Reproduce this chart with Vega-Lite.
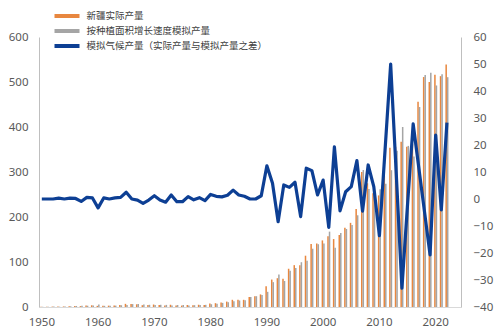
{
  "$schema": "https://vega.github.io/schema/vega-lite/v6.json",
  "width": 422,
  "height": 270,
  "autosize": "none",
  "padding": {"left": 39, "top": 37, "right": 39, "bottom": 26},
  "background": "white",
  "config": {
    "view": {"stroke": null},
    "font": "Noto Sans",
    "axis": {"labelColor": "#595959", "labelFontSize": 11.5, "domainColor": "#BFBFBF", "ticks": false, "grid": false, "title": null}
  },
  "data": {"values": [
    {"year":1950,"a":0.5,"s":0.5,"c":0},
    {"year":1951,"a":0.6,"s":0.6,"c":0},
    {"year":1952,"a":0.9,"s":0.9,"c":0},
    {"year":1953,"a":1.0,"s":0.7,"c":0.3},
    {"year":1954,"a":1.2,"s":1.2,"c":0},
    {"year":1955,"a":1.8,"s":1.5,"c":0.3},
    {"year":1956,"a":2.5,"s":2.3,"c":0.2},
    {"year":1957,"a":2.0,"s":2.9,"c":-0.9},
    {"year":1958,"a":3.5,"s":2.9,"c":0.6},
    {"year":1959,"a":3.8,"s":3.4,"c":0.4},
    {"year":1960,"a":2.5,"s":5.8,"c":-3.3},
    {"year":1961,"a":3.0,"s":2.6,"c":0.4},
    {"year":1962,"a":3.0,"s":3.0,"c":0},
    {"year":1963,"a":3.5,"s":3.1,"c":0.4},
    {"year":1964,"a":4.5,"s":3.9,"c":0.6},
    {"year":1965,"a":7.0,"s":4.5,"c":2.5},
    {"year":1966,"a":6.5,"s":6.5,"c":0},
    {"year":1967,"a":6.0,"s":6.4,"c":-0.4},
    {"year":1968,"a":4.0,"s":5.6,"c":-1.6},
    {"year":1969,"a":4.5,"s":4.9,"c":-0.4},
    {"year":1970,"a":5.5,"s":4.3,"c":1.2},
    {"year":1971,"a":4.5,"s":4.9,"c":-0.4},
    {"year":1972,"a":3.5,"s":4.7,"c":-1.2},
    {"year":1973,"a":5.0,"s":3.5,"c":1.5},
    {"year":1974,"a":3.5,"s":4.5,"c":-1.0},
    {"year":1975,"a":3.2,"s":4.2,"c":-1.0},
    {"year":1976,"a":4.5,"s":3.6,"c":0.9},
    {"year":1977,"a":3.8,"s":4.1,"c":-0.3},
    {"year":1978,"a":5.0,"s":4.5,"c":0.5},
    {"year":1979,"a":4.2,"s":4.8,"c":-0.6},
    {"year":1980,"a":7.8,"s":6.1,"c":1.7},
    {"year":1981,"a":8.5,"s":7.5,"c":1.0},
    {"year":1982,"a":10,"s":9.2,"c":0.8},
    {"year":1983,"a":12,"s":10.6,"c":1.4},
    {"year":1984,"a":16,"s":12.7,"c":3.3},
    {"year":1985,"a":16,"s":14.5,"c":1.5},
    {"year":1986,"a":16,"s":15,"c":1.0},
    {"year":1987,"a":22,"s":22,"c":0},
    {"year":1988,"a":24,"s":24,"c":0},
    {"year":1989,"a":28,"s":26.8,"c":1.2},
    {"year":1990,"a":46,"s":33.7,"c":12.3},
    {"year":1991,"a":61,"s":55.2,"c":5.8},
    {"year":1992,"a":64,"s":72.4,"c":-8.4},
    {"year":1993,"a":63,"s":57.8,"c":5.2},
    {"year":1994,"a":85,"s":80.7,"c":4.3},
    {"year":1995,"a":93,"s":86.8,"c":6.2},
    {"year":1996,"a":93,"s":99.5,"c":-6.5},
    {"year":1997,"a":114,"s":102.6,"c":11.4},
    {"year":1998,"a":140,"s":129.5,"c":10.5},
    {"year":1999,"a":141,"s":139.5,"c":1.5},
    {"year":2000,"a":148,"s":141,"c":7},
    {"year":2001,"a":157,"s":167.5,"c":-10.5},
    {"year":2002,"a":151,"s":131.7,"c":19.3},
    {"year":2003,"a":160,"s":164.4,"c":-4.4},
    {"year":2004,"a":176,"s":173.3,"c":2.7},
    {"year":2005,"a":187,"s":182.4,"c":4.6},
    {"year":2006,"a":218,"s":203.8,"c":14.2},
    {"year":2007,"a":300,"s":304.5,"c":-4.5},
    {"year":2008,"a":275,"s":262.4,"c":12.6},
    {"year":2009,"a":253,"s":248.4,"c":4.6},
    {"year":2010,"a":248,"s":261.6,"c":-13.6},
    {"year":2011,"a":292,"s":274,"c":18},
    {"year":2012,"a":354,"s":304,"c":50},
    {"year":2013,"a":356,"s":347,"c":9},
    {"year":2014,"a":367,"s":400,"c":-33},
    {"year":2015,"a":356,"s":358,"c":-2},
    {"year":2016,"a":362,"s":334.2,"c":27.8},
    {"year":2017,"a":456,"s":444.4,"c":11.6},
    {"year":2018,"a":511,"s":515.5,"c":-4.5},
    {"year":2019,"a":500,"s":520.7,"c":-20.7},
    {"year":2020,"a":516,"s":492.3,"c":23.7},
    {"year":2021,"a":513,"s":517,"c":-4},
    {"year":2022,"a":539,"s":510.7,"c":28.3}
  ]},
  "encoding": {
    "x": {
      "field": "year", "type": "ordinal",
      "scale": {"domain": [1950,1951,1952,1953,1954,1955,1956,1957,1958,1959,1960,1961,1962,1963,1964,1965,1966,1967,1968,1969,1970,1971,1972,1973,1974,1975,1976,1977,1978,1979,1980,1981,1982,1983,1984,1985,1986,1987,1988,1989,1990,1991,1992,1993,1994,1995,1996,1997,1998,1999,2000,2001,2002,2003,2004,2005,2006,2007,2008,2009,2010,2011,2012,2013,2014,2015,2016,2017,2018,2019,2020,2021,2022,2023,2024], "paddingInner": 0.46, "paddingOuter": 0.23},
      "axis": {"values": [1950,1960,1970,1980,1990,2000,2010,2020], "labelAngle": 0, "labelPadding": 9, "domainColor": "#D9D9D9"}
    }
  },
  "layer": [
    {
      "transform": [{"fold": ["a", "s"], "as": ["series", "value"]}],
      "mark": {"type": "bar"},
      "encoding": {
        "xOffset": {"field": "series", "type": "nominal", "scale": {"domain": ["a", "s"], "paddingInner": 0, "paddingOuter": 0}},
        "y": {"field": "value", "type": "quantitative", "scale": {"domain": [0, 600]}, "axis": {"orient": "left", "values": [0,100,200,300,400,500,600], "labelPadding": 11}},
        "color": {
          "field": "series", "type": "nominal",
          "scale": {"domain": ["a", "s", "c"], "range": ["#E8873F", "#A5A5A5", "#0D3F94"]},
          "legend": {
            "orient": "none", "legendX": 21, "legendY": -28, "title": null, "padding": 0,
            "symbolType": "M-2.5,0H2.5", "symbolSize": 100, "symbolStrokeWidth": 4,
            "labelFontSize": 9.5, "labelColor": "#404040", "labelFont": "Noto Sans CJK SC", "labelLimit": 0,
            "rowPadding": -5.5, "labelOffset": 12.5,
            "labelExpr": "datum.value == 'a' ? '新疆实际产量' : datum.value == 's' ? '按种植面积增长速度模拟产量' : '模拟气候产量（实际产量与模拟产量之差）'",
            "encode": {"symbols": {"update": {"stroke": {"scale": "color", "field": "value"}, "strokeWidth": {"value": 4}}}}
          }
        }
      }
    },
    {
      "mark": {"type": "line", "strokeWidth": 3.2, "strokeJoin": "round"},
      "encoding": {
        "y": {"field": "c", "type": "quantitative", "scale": {"domain": [-40, 60]}, "axis": {"orient": "right", "values": [-40,-30,-20,-10,0,10,20,30,40,50,60], "labelPadding": 12}},
        "color": {"datum": "c"}
      }
    }
  ],
  "resolve": {"scale": {"y": "independent"}}
}
